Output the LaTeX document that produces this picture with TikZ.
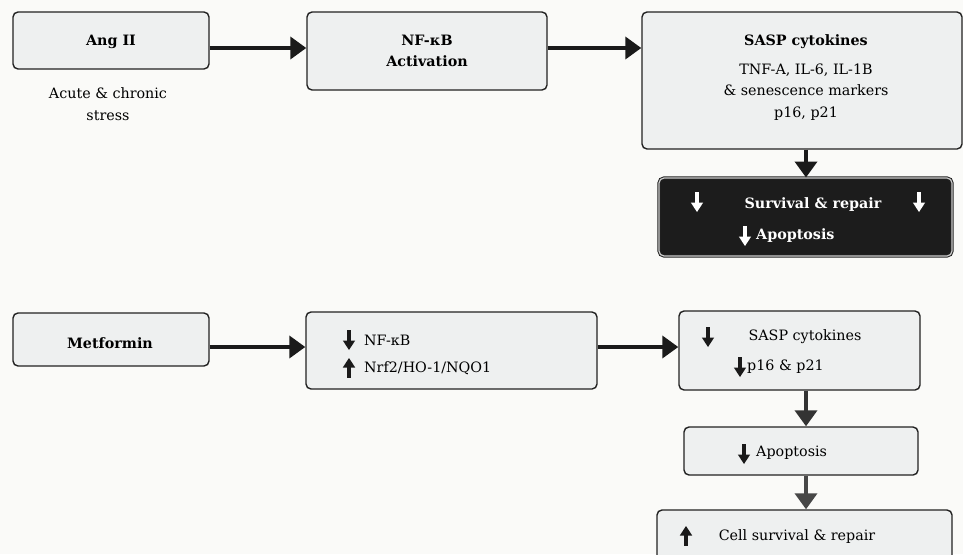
\documentclass[tikz,border=0pt]{standalone}
\usepackage{fontspec}
\setmainfont{DejaVu Serif}
\usetikzlibrary{arrows.meta}
\definecolor{bg}{RGB}{250,250,248}
\definecolor{boxfill}{RGB}{238,240,240}
\definecolor{boxline}{RGB}{34,34,34}
\definecolor{darkfill}{RGB}{28,28,28}
\definecolor{arrcol}{RGB}{26,26,26}
\tikzset{
  box/.style={draw=boxline, fill=boxfill, line width=1.4pt, rounded corners=5pt, inner sep=0pt},
  darkbox/.style={draw=boxline, fill=darkfill, line width=1pt, double=black!20, double distance=1.2pt, rounded corners=5pt, inner sep=0pt},
  arr/.style={draw=arrcol, line width=3.8pt, -{Triangle[length=16pt,width=22pt]}},
  txt/.style={font=\fontsize{14.3}{21.5}\selectfont, inner sep=0pt, align=center},
  btxt/.style={font=\fontsize{14.3}{21}\selectfont\bfseries, inner sep=0pt, align=center},
  wtxt/.style={font=\fontsize{14.3}{21}\selectfont\bfseries, text=white, inner sep=0pt},
  dnarr/.pic={\fill (-1.9,-10) rectangle (1.9,1.5); \fill (-6.2,0.5) -- (6.2,0.5) -- (0,10) -- cycle;},
  uparr/.pic={\fill (-1.9,10) rectangle (1.9,-1.5); \fill (-6.2,-0.5) -- (6.2,-0.5) -- (0,-10) -- cycle;},
}
\begin{document}
\begin{tikzpicture}[x=1pt,y=-1pt]
\fill[bg] (0,0) rectangle (963,554);
\clip (0,0) rectangle (963,554);
\useasboundingbox (0,0) rectangle (963,554);
% row 1
\node[box, minimum width=196pt, minimum height=57pt] (ang) at (111,40.5) {};
\node[btxt] (angt) at (111,42) {Ang II};
\node[txt] (stress) at (108,104) {Acute \& chronic\\stress};
\node[box, minimum width=240pt, minimum height=78pt] (nfa) at (427,51) {};
\node[btxt] (nfat) at (427,50.5) {NF-κB\\Activation};
\node[box, minimum width=320pt, minimum height=137pt] (sasp) at (802,80.5) {};
\node[btxt] (saspt) at (806,42) {SASP cytokines};
\node[txt] (saspl) at (806,92) {TNF-A, IL-6, IL-1B\\\& senescence markers\\p16, p21};
\node[darkbox, minimum width=293pt, minimum height=78pt] (dark) at (805.5,217) {};
\pic[white] at (697,202) {dnarr};
\pic[white] at (919,202) {dnarr};
\pic[white] at (745,236) {dnarr};
\node[wtxt] (dt1) at (813,205) {Survival \& repair};
\node[wtxt, anchor=west] (dt2) at (756,236) {Apoptosis};
% row 2
\node[box, minimum width=196pt, minimum height=53pt] (met) at (111,339.5) {};
\node[btxt] (mett) at (110,343) {Metformin};
\node[box, minimum width=291pt, minimum height=77pt] (nf2) at (451.5,350.5) {};
\pic[arrcol] at (349,340) {dnarr};
\pic[arrcol] at (349,368) {uparr};
\node[txt, anchor=west] (nf2a) at (364,340) {NF-κB};
\node[txt, anchor=west] (nf2b) at (364,368) {Nrf2/HO-1/NQO1};
\node[box, minimum width=241pt, minimum height=79pt] (sasp2) at (799.5,350.5) {};
\pic[arrcol] at (708,337) {dnarr};
\node[txt] (s2t) at (805,337) {SASP cytokines};
\pic[arrcol] at (740,367) {dnarr};
\node[txt, anchor=west] (s2b) at (747,367) {p16 \& p21};
\node[box, minimum width=234pt, minimum height=48pt] (apo) at (801,451) {};
\pic[arrcol] at (744,454) {dnarr};
\node[txt, anchor=west] (apot) at (756,453) {Apoptosis};
\node[box, minimum width=295pt, minimum height=60pt] (cell) at (804.5,540) {};
\pic[arrcol] at (686,536) {uparr};
\node[txt] (cellt) at (797,537) {Cell survival \& repair};
% connectors
\coordinate (r1) at (0,48);
\coordinate (r2) at (0,347);
\coordinate (c1) at (806,0);
\draw[arr] (ang.east |- r1) -- (nfa.west |- r1);
\draw[arr] (nfa.east |- r1) -- (sasp.west |- r1);
\draw[arr] (sasp.south -| c1) -- (dark.north -| c1);
\draw[arr] (met.east |- r2) -- (nf2.west |- r2);
\draw[arr] (nf2.east |- r2) -- (sasp2.west |- r2);
\draw[arr, draw=black!80] (sasp2.south -| c1) -- (apo.north -| c1);
\draw[arr, draw=black!72] (apo.south -| c1) -- (cell.north -| c1);
\end{tikzpicture}
\end{document}
